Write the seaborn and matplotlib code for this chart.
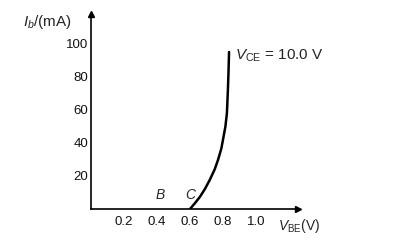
import matplotlib
matplotlib.use("Agg")
import matplotlib.pyplot as plt
import seaborn as sns
import pandas as pd

# Data
vbe = [0.60, 0.63, 0.66, 0.69, 0.72, 0.75, 0.77, 0.79, 0.80, 0.815, 0.824, 0.83, 0.834, 0.837]
ib = [0.0, 3.5, 7.3, 12.0, 17.6, 24.0, 29.7, 36.5, 41.8, 50.0, 58.0, 72.0, 84.0, 95.0]
x_ticks = [0.2, 0.4, 0.6, 0.8, 1.0]
x_tick_labels = ["0.2", "0.4", "0.6", "0.8", "1.0"]
y_ticks = [20, 40, 60, 80, 100]
y_tick_labels = ["20", "40", "60", "80", "100"]
point_labels = ["B", "C"]
point_x = [0.42, 0.60]

sns.set_style("white")
plt.rcParams["font.family"] = ["Liberation Sans", "DejaVu Sans"]
plt.rcParams["mathtext.fontset"] = "custom"
plt.rcParams["mathtext.rm"] = "Liberation Sans"
plt.rcParams["mathtext.it"] = "Liberation Sans:italic"

fig = plt.figure(figsize=(4.12, 2.49), dpi=100)
ax = fig.add_axes([91 / 412, 40 / 249, 207 / 412, 195 / 249])

df = pd.DataFrame({"VBE": vbe, "Ib": ib})
sns.lineplot(data=df, x="VBE", y="Ib", ax=ax, color="black", linewidth=1.8, sort=False)

ax.set_xlim(0, 1.255)
ax.set_ylim(0, 118)
for s in ["top", "right"]:
    ax.spines[s].set_visible(False)
for s in ["left", "bottom"]:
    ax.spines[s].set_linewidth(1.2)
    ax.spines[s].set_color("black")

ax.set_xticks(x_ticks)
ax.set_xticklabels(x_tick_labels)
ax.set_yticks(y_ticks)
ax.set_yticklabels(y_tick_labels)
ax.tick_params(axis="both", direction="in", length=5, width=1.2, color="black",
               labelsize=9.5, labelcolor="#111111")
ax.tick_params(axis="x", pad=5)
ax.tick_params(axis="y", pad=2)
ax.set_xlabel("")
ax.set_ylabel("")

# arrow heads
ax.plot([1], [0], marker=">", color="black", markersize=4, transform=ax.transAxes, clip_on=False)
ax.plot([0], [1], marker="^", color="black", markersize=4, transform=ax.transAxes, clip_on=False)

# annotations
ax.text(0.873, 93, r"$V_{\rm CE}$ = 10.0 V", fontsize=11, va="center", ha="left")
for lab, px in zip(point_labels, point_x):
    ax.text(px, 4, lab, fontsize=10, style="italic", ha="center", va="bottom")
fig.text(278 / 412, 1 - 226 / 249, r"$V_{\rm BE}$(V)", fontsize=10, va="center", ha="left")
fig.text(23 / 412, 1 - 22 / 249, r"$I_b$/(mA)", fontsize=11, va="center", ha="left")

fig.savefig("out.png", dpi=100)
